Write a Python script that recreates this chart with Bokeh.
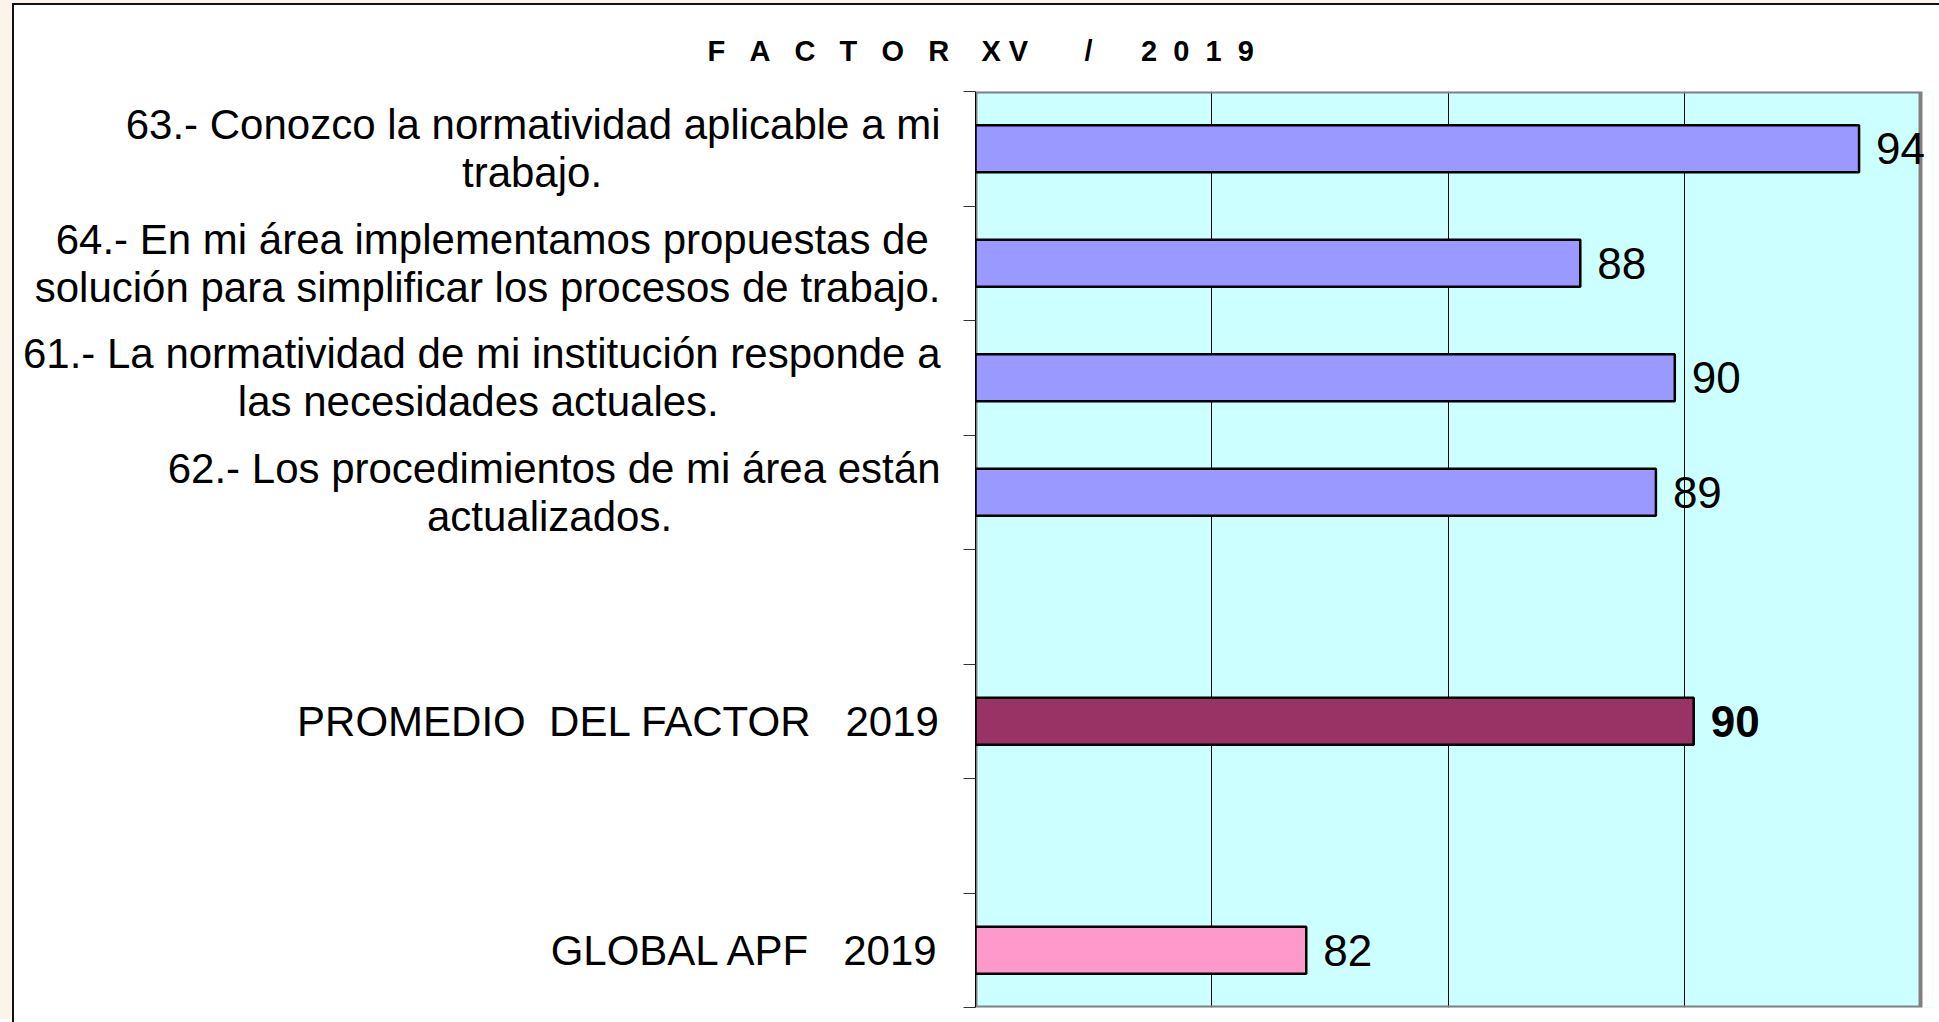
from bokeh.plotting import figure
from bokeh.models import Range1d, FixedTicker, LabelSet, ColumnDataSource, Title, InlineStyleSheet
from bokeh.core.properties import value, field
from bokeh.embed import file_html
from bokeh.resources import INLINE

# ---------------- data ----------------
NB = "\u00a0"
categories = [
    "63.- Conozco la normatividad aplicable a mi\ntrabajo." + NB * 29,
    "64.- En mi área implementamos propuestas de" + NB + "\nsolución para simplificar los procesos de trabajo.",
    "61.- La normatividad de mi institución responde a\nlas necesidades actuales." + NB * 19,
    "62.- Los procedimientos de mi área están\nactualizados." + NB * 23,
    "PROMEDIO" + NB + " DEL FACTOR" + NB * 2 + " 2019",
    "GLOBAL APF" + NB * 2 + " 2019",
]
values = [93.7, 87.8, 89.8, 89.4, 90.2, 82.0]
value_labels = [f"{v:.0f}" for v in values]
slots = [0, 1, 2, 3, 5, 7]          # row position of each category (8 rows, two empty)
n_slots = 8
bar_colors = ["#9999FF", "#9999FF", "#9999FF", "#9999FF", "#993366", "#FF99CC"]
label_styles = ["normal", "normal", "normal", "normal", "bold", "normal"]
x_start, x_end = 75, 95
grid_values = [80, 85, 90]
title_text = (NB * 3).join("FACTOR") + NB * 4 + "X" + NB + "V" + NB * 7 + "/" + NB * 6 + (NB * 2).join("2019")

# ---------------- layout (pixels) ----------------
W, H = 1936, 1019
F_LEFT, F_RIGHT, F_TOP, F_BOTTOM = 975, 1920, 91, 1007
EXTRA_PX = 12                         # white strip right of the plot area, room for the "94" label
ppu = (F_RIGHT - F_LEFT) / (x_end - x_start)
x_view_end = x_end + EXTRA_PX / ppu

centers = [s + 0.5 for s in slots]

src = ColumnDataSource(dict(
    val=values,
    vlab=value_labels,
    ymid=centers,
    color=bar_colors,
    fstyle=label_styles,
))

frame_css = InlineStyleSheet(css="""
:host::after {
  content: ""; position: absolute; left: 0; top: 0; right: 0; bottom: 0;
  border-left: 12px solid #FAF4EA; border-top: 3px solid #FAF4EA; pointer-events: none; z-index: 4;
}
:host::before {
  content: ""; position: absolute; left: 12px; top: 3px; right: -10px; bottom: -10px;
  border-left: 2px solid #111; border-top: 2px solid #111; pointer-events: none; z-index: 5;
}
""")

p = figure(width=W, height=H,
           x_range=Range1d(x_start, x_view_end), y_range=Range1d(n_slots, 0),
           x_axis_location=None, title=None,
           output_backend="svg", toolbar_location=None,
           min_border_left=F_LEFT, min_border_right=W - F_RIGHT - EXTRA_PX,
           min_border_top=F_TOP, min_border_bottom=H - F_BOTTOM,
           stylesheets=[frame_css])

p.background_fill_color = "#CCFFFF"
p.border_fill_color = "white"
p.outline_line_color = None

p.xgrid.ticker = FixedTicker(ticks=grid_values)
p.xgrid.grid_line_color = "black"
p.xgrid.grid_line_width = 1
p.ygrid.visible = False

# category labels at row centres, tick marks at row boundaries
p.yaxis.ticker = FixedTicker(ticks=centers, minor_ticks=list(range(n_slots + 1)))
p.yaxis.major_label_overrides = {c: lab for c, lab in zip(centers, categories)}
p.yaxis.major_tick_line_color = None
p.yaxis.major_tick_out = 0
p.yaxis.major_tick_in = 0
p.yaxis.minor_tick_out = 12
p.yaxis.minor_tick_in = 0
p.yaxis.minor_tick_line_color = "#333333"
p.yaxis.axis_line_color = "black"
p.yaxis.major_label_standoff = 23
p.yaxis.major_label_text_font = "Liberation Sans"
p.yaxis.major_label_text_font_size = "42px"
p.yaxis.major_label_text_line_height = 1.03
p.yaxis.major_label_text_color = "black"

# white strip beyond the axis end, then the gray border of the plot area
p.quad(left=x_end, right=x_view_end, bottom=n_slots, top=0, fill_color="white", line_color=None)
p.quad(left=x_start, right=x_end, bottom=n_slots, top=0, fill_color=None,
       line_color="#808080", line_width=4)

p.hbar(y="ymid", left=x_start, right="val", height=0.41, fill_color="color",
       line_color="black", line_width=2.5, source=src)

p.add_layout(LabelSet(x="val", y="ymid", text="vlab", source=src, x_offset=17,
                      text_baseline="middle", text_align="left",
                      text_font=value("Liberation Sans"), text_font_size="44px",
                      text_font_style=field("fstyle"), text_color="black"))

p.add_layout(Title(text=title_text, align="left", offset=707 - F_LEFT,
                   standoff=50, vertical_align="bottom",
                   text_font="Liberation Sans", text_font_size="29px",
                   text_font_style="bold", text_color="black"), "above")

open("out.html", "w").write(file_html(p, INLINE))
